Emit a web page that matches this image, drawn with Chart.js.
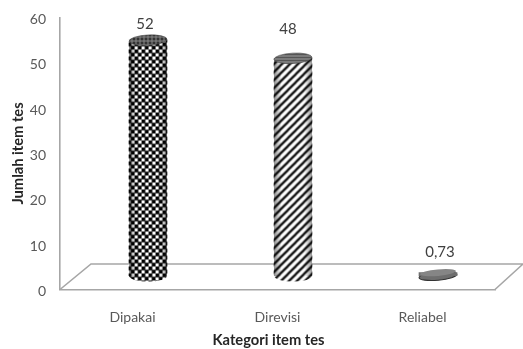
<!DOCTYPE html>
<html><head><meta charset="utf-8">
<style>html,body{margin:0;padding:0;background:#fff}#w{width:523px;height:349px}canvas{filter:blur(.35px)}</style>
<script src="https://cdn.jsdelivr.net/npm/chart.js@4"></script></head>
<body><div id="w"><canvas id="c" width="523" height="349"></canvas></div>
<script>
const categories = ['Dipakai', 'Direvisi', 'Reliabel'];
const values = [52, 48, 0.73];
const yTicks = [0, 10, 20, 30, 40, 50, 60];
const xTitle = 'Kategori item tes';
const yTitle = 'Jumlah item tes';

const TXT = '#595959', AX = '#a6a6a6', FONT = 'Lato, Carlito, sans-serif';
const DX = 15.5, DY = -13.5, BACK = 31, BACKY = -25.5;

function tile(w, h, draw) {
  const t = document.createElement('canvas'); t.width = w; t.height = h;
  draw(t.getContext('2d'));
  return document.createElement('canvas').getContext('2d').createPattern(t, 'repeat');
}
const checker = tile(7, 7, g => {
  g.fillStyle = '#fff'; g.fillRect(0, 0, 7, 7);
  g.fillStyle = '#000'; g.fillRect(0, 0, 3.8, 3.8); g.fillRect(3.2, 3.2, 3.8, 3.8);
});
const stripes = tile(8, 8, g => {
  g.fillStyle = '#fff'; g.fillRect(0, 0, 8, 8);
  g.strokeStyle = '#111'; g.lineWidth = 2.3; g.lineCap = 'square';
  for (const o of [-8, 0, 8]) { g.beginPath(); g.moveTo(o, 8); g.lineTo(o + 8, 0); g.stroke(); }
});
const capA = tile(4, 4, g => { g.fillStyle = '#333'; g.fillRect(0, 0, 4, 4); g.fillStyle = '#888'; g.fillRect(0, 0, 1, 4); g.fillRect(0, 2, 4, 1); });
const capB = tile(4, 3, g => { g.fillStyle = '#555'; g.fillRect(0, 0, 4, 3); g.fillStyle = '#a0a0a0'; g.fillRect(0, 0, 4, 1); });
const fills = [checker, stripes, '#6e6e6e'];
const caps = [capA, capB, capB];
const nudges = [[-3, -16], [-5, -29], [2, -21]];

const cylinder = {
  id: 'cylinder',
  beforeDatasetsDraw(chart) {
    const { ctx, scales: { x, y } } = chart;
    const b = y.getPixelForValue(0), l = x.left, r = x.right;
    ctx.save();
    ctx.strokeStyle = AX; ctx.lineWidth = 1.6; ctx.lineJoin = 'miter';
    ctx.beginPath();
    ctx.moveTo(l, b); ctx.lineTo(l + BACK, b + BACKY); ctx.lineTo(r + BACK - 3, b + BACKY);
    ctx.lineTo(r, b);
    ctx.stroke();
    ctx.restore();
    ctx.save(); ctx.translate(DX, DY);
    chart.getDatasetMeta(0).data.forEach((bar, i) => {
      const hw = bar.width / 2, small = bar.base - bar.y < 8;
      ctx.beginPath(); ctx.ellipse(bar.x, bar.base, hw, small ? 4.2 : 5.5, small ? -0.09 : 0, 0, Math.PI * 2);
      ctx.fillStyle = fills[i]; ctx.fill();
      if (small) { ctx.strokeStyle = '#333'; ctx.lineWidth = 1.1; ctx.stroke(); }
    });
    ctx.restore();
  },
  beforeDatasetDraw(chart) { chart.ctx.save(); chart.ctx.translate(DX, DY); },
  afterDatasetDraw(chart) {
    const ctx = chart.ctx;
    chart.getDatasetMeta(0).data.forEach((bar, i) => {
      const hw = bar.width / 2, small = bar.base - bar.y < 8;
      if (!small) {
        const g = ctx.createLinearGradient(bar.x - hw, 0, bar.x + hw, 0);
        g.addColorStop(0, 'rgba(0,0,0,.45)'); g.addColorStop(.2, 'rgba(0,0,0,0)');
        g.addColorStop(.8, 'rgba(0,0,0,0)'); g.addColorStop(1, 'rgba(0,0,0,.4)');
        ctx.fillStyle = g; ctx.fillRect(bar.x - hw, bar.y, hw * 2, bar.base - bar.y);
      }
      ctx.beginPath(); ctx.ellipse(bar.x, bar.y, hw - (small ? 1 : 0), small ? 3.2 : 5.2, small ? -0.09 : -0.055, 0, Math.PI * 2);
      ctx.fillStyle = small ? '#858585' : caps[i]; ctx.fill();
      if (!small) { ctx.strokeStyle = '#444'; ctx.lineWidth = .6; ctx.stroke(); }
    });
    ctx.restore();
    ctx.save();
    ctx.textAlign = 'center'; ctx.textBaseline = 'middle';
    ctx.font = '15px ' + FONT; ctx.fillStyle = '#404040';
    chart.getDatasetMeta(0).data.forEach((bar, i) => {
      ctx.fillText(String(values[i]).replace('.', ','), bar.x + DX + nudges[i][0], bar.y + DY + nudges[i][1]);
    });
    const sx = chart.scales.x;
    ctx.font = 'bold 14.7px ' + FONT; ctx.fillStyle = '#262626';
    ctx.fillText(xTitle, (sx.left + sx.right) / 2 - 9, sx.bottom - 8.5);
    ctx.restore();
  }
};

new Chart(document.getElementById('c'), {
  type: 'bar',
  data: { labels: categories, datasets: [{ data: values, backgroundColor: fills, barThickness: 38, borderWidth: 0 }] },
  plugins: [cylinder],
  options: {
    responsive: false, animation: false,
    layout: { padding: { left: 0, right: 28, top: 16.5, bottom: 0 } },
    plugins: { legend: { display: false }, tooltip: { enabled: false } },
    scales: {
      x: {
        grid: { display: false, drawTicks: false },
        border: { display: true, color: AX, width: 1.6 },
        ticks: { color: TXT, font: { family: FONT, size: 14 }, padding: 20, maxRotation: 0 },
        afterFit(s) { s.height = 59.5; }
      },
      y: {
        min: 0, max: 60,
        afterBuildTicks(s) { s.ticks = yTicks.map(v => ({ value: v })); },
        grid: { display: false, drawTicks: true, tickLength: 5, tickColor: AX },
        border: { display: true, color: AX, width: 1.6 },
        ticks: { color: TXT, font: { family: FONT, size: 14 }, padding: 9, labelOffset: 2 },
        title: { display: true, text: yTitle, color: '#262626', font: { family: FONT, size: 14.7, weight: 'bold' }, padding: { top: 9, bottom: 0 } },
        afterFit(s) { s.width = 60; }
      }
    }
  }
});
</script></body></html>
